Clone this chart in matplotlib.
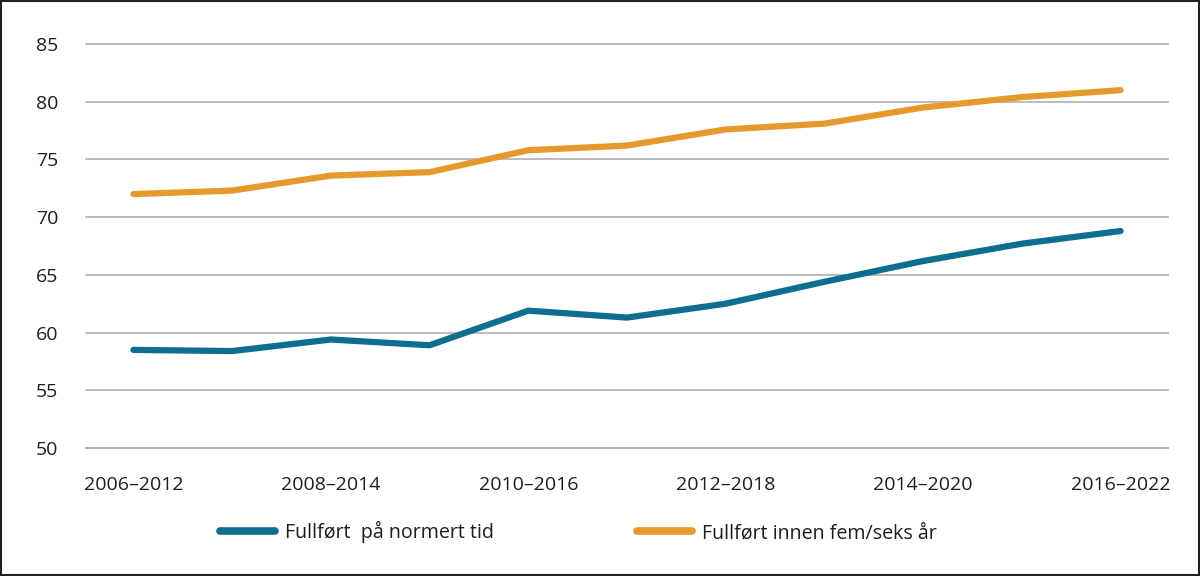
import matplotlib
matplotlib.use("Agg")
import matplotlib.pyplot as plt
from matplotlib.patches import Rectangle

plt.rcParams['font.family'] = ['Open Sans', 'DejaVu Sans']

periods = ["2006–2012", "2007–2013", "2008–2014", "2009–2015", "2010–2016",
           "2011–2017", "2012–2018", "2013–2019", "2014–2020", "2015–2021",
           "2016–2022"]
normert_tid = [58.5, 58.4, 59.4, 58.9, 61.9, 61.3, 62.5, 64.4, 66.2, 67.7, 68.8]
fem_seks_aar = [72.0, 72.3, 73.6, 73.9, 75.8, 76.2, 77.6, 78.1, 79.5, 80.4, 81.0]
series_labels = ["Fullført  på normert tid", "Fullført innen fem/seks år"]
y_ticks = [50, 55, 60, 65, 70, 75, 80, 85]

BLUE = "#0f6d90"
ORANGE = "#e69a2e"
TEXT = "#1e1e1e"

fig = plt.figure(figsize=(12, 5.76), dpi=100)
ax = fig.add_axes([0.0717, 0.2222, 0.9016, 0.7014])

x = list(range(len(periods)))
ax.plot(x, normert_tid, color=BLUE, lw=4.5, solid_capstyle='round',
        label=series_labels[0], zorder=3)
ax.plot(x, fem_seks_aar, color=ORANGE, lw=4.5, solid_capstyle='round',
        label=series_labels[1], zorder=3)

ax.set_ylim(50, 85)
ax.set_xlim(-0.48, len(periods) - 1 + 0.48)
ax.set_yticks(y_ticks)
ax.set_xticks(x[::2])
ax.set_xticklabels(periods[::2])
ax.yaxis.grid(True, color="#b0b0b0", lw=1.2, clip_on=False)
ax.set_axisbelow(True)
for s in ["top", "right", "left"]:
    ax.spines[s].set_visible(False)
ax.spines["bottom"].set_color("#b0b0b0")
ax.spines["bottom"].set_linewidth(1.2)
ax.tick_params(axis="both", length=0, labelsize=14, colors=TEXT)
ax.tick_params(axis="x", pad=20)
ax.tick_params(axis="y", pad=20)

fig.legend(loc="center", bbox_to_anchor=(0.482, 0.076), ncol=2, frameon=False,
           fontsize=14.1, handlelength=2.8, handletextpad=0.5,
           columnspacing=7.3, labelcolor=TEXT)
for line in fig.legends[0].get_lines():
    line.set_linewidth(5.5)

fig.patches.append(Rectangle((0.001, 0.002), 0.998, 0.996, transform=fig.transFigure,
                             fill=False, edgecolor="#222222", lw=1.5))

fig.savefig("out.png", dpi=100)
